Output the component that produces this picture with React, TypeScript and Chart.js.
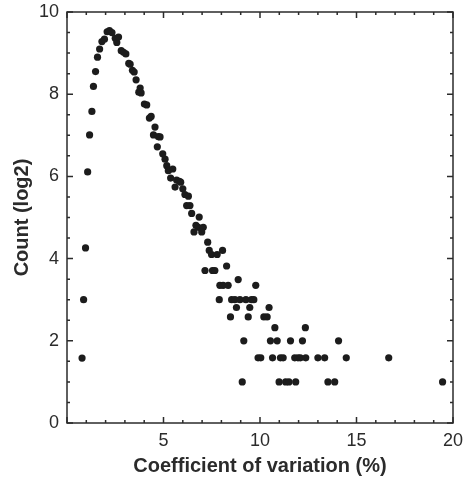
import React, { useEffect, useRef } from "react";
import { Chart, registerables } from "chart.js";

Chart.register(...registerables);

// Coefficient of variation (%) for each point
const cvPercent: number[] = [
  0.78, 0.86, 0.96, 1.07, 1.17, 1.29, 1.37, 1.48, 1.58, 1.69, 1.81, 1.94, 2.08, 2.2, 2.33,
  2.5, 2.58, 2.67, 2.81, 2.93, 3.05, 3.2, 3.27, 3.39, 3.48, 3.58, 3.72, 3.79, 3.84, 4.01,
  4.13, 4.27, 4.36, 4.56, 4.48, 4.73, 4.82, 4.68, 4.96, 5.08, 5.17, 5.25, 5.48, 5.37, 5.68,
  5.82, 5.89, 5.6, 6.0, 6.11, 6.29, 6.2, 6.37, 6.46, 6.85, 6.68, 6.8, 7.06, 6.58, 6.98,
  7.29, 7.37, 7.49, 7.78, 8.06, 8.27, 7.15, 7.54, 7.66, 8.87,
  7.92, 8.09, 8.35, 9.78,
  7.89, 8.53, 8.7, 8.96, 9.27, 9.56, 9.68,
  8.78, 9.47, 10.47,
  8.47, 9.39, 10.2, 10.37,
  10.77, 12.35,
  9.16, 10.54, 10.89, 11.58, 12.2, 14.07,
  9.9, 10.04, 10.65, 11.06, 11.2, 11.8, 11.97, 12.09, 12.37, 13.0, 13.35, 14.47, 16.67,
  9.08, 10.99, 11.33, 11.5, 11.85, 13.52, 13.87, 19.46,
];

// Count (log2) for each point
const countLog2: number[] = [
  1.58, 3.0, 4.26, 6.11, 7.01, 7.58, 8.19, 8.55, 8.9, 9.1, 9.28, 9.34, 9.52, 9.55, 9.5,
  9.36, 9.26, 9.39, 9.06, 9.02, 8.98, 8.75, 8.73, 8.58, 8.54, 8.35, 8.05, 8.15, 8.03, 7.76,
  7.74, 7.42, 7.46, 7.2, 7.01, 6.97, 6.96, 6.72, 6.55, 6.42, 6.26, 6.14, 6.18, 5.96, 5.91,
  5.88, 5.86, 5.74, 5.7, 5.56, 5.52, 5.29, 5.29, 5.1, 5.01, 4.81, 4.76, 4.76, 4.65, 4.65,
  4.4, 4.2, 4.1, 4.1, 4.2, 3.82, 3.71, 3.71, 3.71, 3.49,
  3.35, 3.35, 3.35, 3.35,
  3.0, 3.0, 3.0, 3.0, 3.0, 3.0, 3.0,
  2.81, 2.81, 2.81,
  2.58, 2.58, 2.58, 2.58,
  2.32, 2.32,
  2.0, 2.0, 2.0, 2.0, 2.0, 2.0,
  1.585, 1.585, 1.585, 1.585, 1.585, 1.585, 1.585, 1.585, 1.585, 1.585, 1.585, 1.585, 1.585,
  1.0, 1.0, 1.0, 1.0, 1.0, 1.0, 1.0, 1.0,
];

const xTickLabels: number[] = [5, 10, 15, 20];
const yTickLabels: number[] = [0, 2, 4, 6, 8, 10];

const FONT = "'Liberation Sans', Arial, Helvetica, sans-serif";
const INK = "#2b2b2b";

const framePlugin = {
  id: "frameTicks",
  afterDatasetsDraw(chart: any) {
    const { ctx, chartArea } = chart;
    const xs = chart.scales.x;
    const ys = chart.scales.y;
    const { left, right, top, bottom } = chartArea;
    ctx.save();
    ctx.strokeStyle = INK;
    ctx.lineWidth = 1.5;
    ctx.strokeRect(left, top, right - left, bottom - top);
    ctx.beginPath();
    for (let v = 0; v <= 20; v += 1) {
      const px = xs.getPixelForValue(v);
      const len = v % 5 === 0 ? 6 : 3;
      ctx.moveTo(px, bottom);
      ctx.lineTo(px, bottom - len);
      ctx.moveTo(px, top);
      ctx.lineTo(px, top + len);
    }
    for (let i = 0; i <= 20; i += 1) {
      const v = i * 0.5;
      const py = ys.getPixelForValue(v);
      const len = i % 4 === 0 ? 6 : 3;
      ctx.moveTo(left, py);
      ctx.lineTo(left + len, py);
      ctx.moveTo(right, py);
      ctx.lineTo(right - len, py);
    }
    ctx.stroke();
    ctx.restore();
  },
};

export default function App() {
  const ref = useRef<HTMLCanvasElement | null>(null);

  useEffect(() => {
    if (!ref.current) return;
    const data = cvPercent.map((x, i) => ({ x, y: countLog2[i] }));
    const chart = new Chart(ref.current, {
      type: "scatter",
      data: {
        datasets: [
          {
            data,
            backgroundColor: "#1c1c1c",
            borderWidth: 0,
            pointRadius: 3.6,
            pointHoverRadius: 3.6,
          },
        ],
      },
      options: {
        animation: false,
        responsive: false,
        events: [],
        layout: { padding: { top: 12, right: 12, left: 0, bottom: 0 } },
        plugins: { legend: { display: false }, tooltip: { enabled: false } },
        scales: {
          x: {
            type: "linear",
            min: 0,
            max: 20,
            grid: { display: false, drawTicks: false },
            border: { display: false },
            afterBuildTicks: (scale: any) => {
              scale.ticks = [0, ...xTickLabels].map((v) => ({ value: v }));
            },
            afterFit: (scale: any) => {
              scale.height = 55;
              scale.paddingLeft = 0;
              scale.paddingRight = 0;
            },
            ticks: {
              padding: 7,
              color: INK,
              font: { family: FONT, size: 18 },
              maxRotation: 0,
              callback: (v: any) => (xTickLabels.includes(Number(v)) ? String(v) : ""),
            },
            title: {
              display: true,
              text: "Coefficient of variation (%)",
              color: INK,
              font: { family: FONT, size: 20, weight: "bold" },
              padding: { top: 0, bottom: 0 },
            },
          },
          y: {
            type: "linear",
            min: 0,
            max: 10,
            grid: { display: false, drawTicks: false },
            border: { display: false },
            afterBuildTicks: (scale: any) => {
              scale.ticks = yTickLabels.map((v) => ({ value: v }));
            },
            afterFit: (scale: any) => {
              scale.width = 67;
              scale.paddingTop = 0;
              scale.paddingBottom = 0;
            },
            ticks: {
              padding: 8,
              color: INK,
              font: { family: FONT, size: 18 },
              callback: (v: any) => String(v),
            },
            title: {
              display: true,
              text: "Count (log2)",
              color: INK,
              font: { family: FONT, size: 20, weight: "bold" },
              padding: { top: 10, bottom: 0 },
            },
          },
        },
      },
      plugins: [framePlugin],
    });
    return () => chart.destroy();
  }, []);

  return (
    <div style={{ position: "fixed", left: 0, top: 0, width: 465, height: 478, background: "#fff" }}>
      <canvas ref={ref} width={465} height={478} style={{ display: "block" }} />
    </div>
  );
}
